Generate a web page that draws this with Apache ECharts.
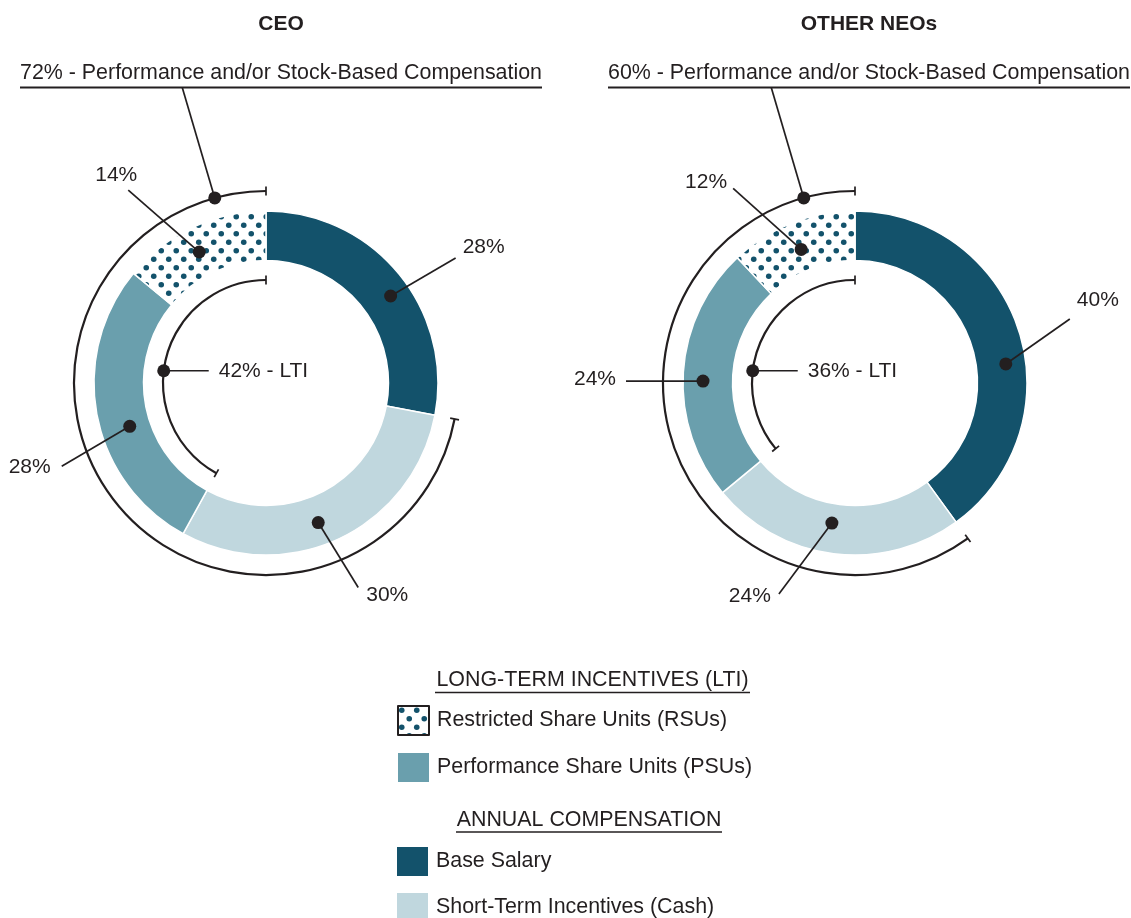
<!DOCTYPE html>
<html>
<head>
<meta charset="utf-8">
<script src="https://cdn.jsdelivr.net/npm/echarts@6/dist/echarts.min.js"></script>
<style>
  html, body { margin: 0; background: #fff; }
  #chart { width: 1131px; height: 918px; }
</style>
</head>
<body>
<div id="chart"></div>
<script>
// ring order, clockwise from 12 o'clock
var categories = ['Base Salary', 'Short-Term Incentives (Cash)', 'Performance Share Units (PSUs)', 'Restricted Share Units (RSUs)'];
var ceoValues = [28, 30, 28, 14];
var neoValues = [40, 24, 24, 12];
var chartTitles = ['CEO', 'OTHER NEOs'];
var perfLabels = ['72% - Performance and/or Stock-Based Compensation', '60% - Performance and/or Stock-Based Compensation'];
var ltiLabels = ['42% - LTI', '36% - LTI'];
var ltiLegend = ['Restricted Share Units (RSUs)', 'Performance Share Units (PSUs)'];
var annualLegend = ['Base Salary', 'Short-Term Incentives (Cash)'];
var legendHeads = ['LONG-TERM INCENTIVES (LTI)', 'ANNUAL COMPENSATION'];

var ink = '#231f20';
var FONT = '"Liberation Sans", Arial, sans-serif';
var colors = ['#13526b', '#c0d7de', '#6a9fad', null];

// dotted fill for RSUs
var dots = document.createElement('canvas');
dots.width = 15; dots.height = 17;
var g = dots.getContext('2d');
g.fillStyle = '#fff';
g.fillRect(0, 0, 15, 17);
g.fillStyle = '#13526b';
[[3.75, 4.25], [11.25, 12.75]].forEach(function (d) {
  g.beginPath(); g.arc(d[0], d[1], 2.8, 0, Math.PI * 2); g.fill();
});
colors[3] = { image: dots, repeat: 'repeat' };

var centers = [[266, 383], [855, 383]];
var titleX = [281, 869];
var underline = [[20, 542], [608, 1130]];

// callout placement per slice: shift along ring, dot radius, leader offset, text offset
var calloutLayout = [
  [
    { shift: 1.3, r: 152, dx: 65, dy: -38, align: 'left', tx: 7, ty: -11 },
    { shift: 1.3, r: 149, dx: 40, dy: 65, align: 'left', tx: 8, ty: 8 },
    { shift: -1.9, r: 143, dx: -68, dy: 40, align: 'right', tx: -11, ty: 1 },
    { shift: -0.5, r: 147, dx: -71, dy: -62, align: 'center', tx: -12, ty: -15 }
  ],
  [
    { shift: 3, r: 152, dx: 64, dy: -45, align: 'left', tx: 7, ty: -19 },
    { shift: 0.6, r: 142, dx: -53, dy: 71, align: 'right', tx: -8, ty: 2 },
    { shift: -0.8, r: 152, dx: -77, dy: 0, align: 'right', tx: -10, ty: -2 },
    { shift: -0.1, r: 144, dx: -68, dy: -61, align: 'right', tx: -6, ty: -6 }
  ]
];
// brackets: outer = performance/stock based, inner = LTI
var bracketLayout = [
  { r: 192, dotAt: 95.7, dx: -32.5, dy: -110.5 },
  { r: 103, dotAt: 76.9, dx: 45, dy: 0 }
];

function cumStarts(vals) {
  var s = 0;
  return vals.map(function (v) { var r = [s, v]; s += v; return r; });
}

function calloutRenderer(k) {
  return function (params, api) {
    var c = calloutLayout[k][params.dataIndex];
    var start = api.value(0), val = api.value(1);
    var p = api.coord([c.r, start + val / 2 + c.shift]);
    var q = [p[0] + c.dx, p[1] + c.dy];
    return {
      type: 'group',
      children: [
        { type: 'line', shape: { x1: p[0], y1: p[1], x2: q[0], y2: q[1] }, style: { stroke: ink, lineWidth: 1.7 } },
        { type: 'circle', shape: { cx: p[0], cy: p[1], r: 6.5 }, style: { fill: ink } },
        { type: 'text', x: q[0] + c.tx, y: q[1] + c.ty,
          style: { text: val + '%', font: '21px ' + FONT, fill: ink, align: c.align, verticalAlign: 'middle' } }
      ]
    };
  };
}

function bracketRenderer(k) {
  return function (params, api) {
    var b = bracketLayout[params.dataIndex];
    var cs = params.coordSys;
    var from = api.value(0), to = api.value(1);
    function ang(v) { var p = api.coord([100, v]); return Math.atan2(p[1] - cs.cy, p[0] - cs.cx); }
    var a0 = ang(from), a1 = ang(to);
    while (a1 <= a0) a1 += Math.PI * 2;
    var kids = [
      { type: 'arc', shape: { cx: cs.cx, cy: cs.cy, r: b.r, startAngle: a0, endAngle: a1, clockwise: true },
        style: { stroke: ink, lineWidth: 2.2, fill: null } }
    ];
    [from, to].forEach(function (v) {
      var p1 = api.coord([b.r - 4.5, v]), p2 = api.coord([b.r + 4.5, v]);
      kids.push({ type: 'line', shape: { x1: p1[0], y1: p1[1], x2: p2[0], y2: p2[1] }, style: { stroke: ink, lineWidth: 1.7 } });
    });
    var d = api.coord([b.r, b.dotAt]);
    kids.push({ type: 'line', shape: { x1: d[0], y1: d[1], x2: d[0] + b.dx, y2: d[1] + b.dy }, style: { stroke: ink, lineWidth: 1.7 } });
    kids.push({ type: 'circle', shape: { cx: d[0], cy: d[1], r: 6.5 }, style: { fill: ink } });
    if (params.dataIndex === 1) {
      kids.push({ type: 'text', x: d[0] + 55, y: d[1],
        style: { text: ltiLabels[k], font: '21px ' + FONT, fill: ink, align: 'left', verticalAlign: 'middle' } });
    }
    return { type: 'group', children: kids };
  };
}

var allValues = [ceoValues, neoValues];
var series = [];
var graphics = [];
allValues.forEach(function (vals, k) {
  series.push({
    type: 'pie',
    center: centers[k],
    radius: [122.5, 172],
    startAngle: 90,
    clockwise: true,
    silent: true,
    animation: false,
    label: { show: false },
    labelLine: { show: false },
    itemStyle: { borderColor: '#fff', borderWidth: 1.5 },
    data: categories.map(function (n, i) {
      return { name: n, value: vals[i], itemStyle: { color: colors[i] } };
    })
  });
  series.push({
    type: 'custom',
    coordinateSystem: 'polar',
    polarIndex: k,
    silent: true,
    animation: false,
    z: 5,
    data: [[vals[0], 100], [vals[0] + vals[1], 100]],
    renderItem: bracketRenderer(k)
  });
  series.push({
    type: 'custom',
    coordinateSystem: 'polar',
    polarIndex: k,
    silent: true,
    animation: false,
    z: 6,
    data: cumStarts(vals),
    renderItem: calloutRenderer(k)
  });

  graphics.push({ type: 'text', x: titleX[k], y: 24,
    style: { text: chartTitles[k], font: 'bold 21px ' + FONT, fill: ink, align: 'center', verticalAlign: 'middle' } });
  graphics.push({ type: 'text', x: titleX[k], y: 73,
    style: { text: perfLabels[k], font: '21.4px ' + FONT, fill: ink, align: 'center', verticalAlign: 'middle' } });
  graphics.push({ type: 'line', shape: { x1: underline[k][0], y1: 87.5, x2: underline[k][1], y2: 87.5 },
    style: { stroke: ink, lineWidth: 2 } });
});

// legend headings
graphics.push({ type: 'text', x: 592.5, y: 680,
  style: { text: legendHeads[0], font: '21.4px ' + FONT, fill: ink, align: 'center', verticalAlign: 'middle' } });
graphics.push({ type: 'line', shape: { x1: 435, y1: 692.5, x2: 750, y2: 692.5 }, style: { stroke: ink, lineWidth: 1.5 } });
graphics.push({ type: 'text', x: 589, y: 820,
  style: { text: legendHeads[1], font: '21.4px ' + FONT, fill: ink, align: 'center', verticalAlign: 'middle' } });
graphics.push({ type: 'line', shape: { x1: 456, y1: 832, x2: 722, y2: 832 }, style: { stroke: ink, lineWidth: 1.5 } });

var legendBase = {
  orient: 'vertical',
  left: 397,
  icon: 'rect',
  itemWidth: 31,
  itemHeight: 29,
  itemGap: 17,
  padding: 0,
  selectedMode: false,
  itemStyle: { borderWidth: 0 },
  textStyle: { fontSize: 21.4, fontFamily: FONT, color: ink, padding: [0, 0, 0, 3] }
};

var option = {
  backgroundColor: '#fff',
  animation: false,
  polar: [
    { center: centers[0], radius: 200 },
    { center: centers[1], radius: 200 }
  ],
  angleAxis: [
    { polarIndex: 0, type: 'value', min: 0, max: 100, startAngle: 90, clockwise: true, show: false },
    { polarIndex: 1, type: 'value', min: 0, max: 100, startAngle: 90, clockwise: true, show: false }
  ],
  radiusAxis: [
    { polarIndex: 0, type: 'value', min: 0, max: 200, show: false },
    { polarIndex: 1, type: 'value', min: 0, max: 200, show: false }
  ],
  legend: [
    Object.assign({}, legendBase, {
      top: 705,
      data: [
        { name: ltiLegend[0], itemStyle: { borderColor: ink, borderWidth: 2 } },
        { name: ltiLegend[1] }
      ]
    }),
    Object.assign({}, legendBase, { top: 847, data: [{ name: annualLegend[0] }] }),
    Object.assign({}, legendBase, { top: 893, data: [{ name: annualLegend[1] }] })
  ],
  graphic: graphics,
  series: series
};

var myChart = echarts.init(document.getElementById('chart'));
myChart.setOption(option);
</script>
</body>
</html>
